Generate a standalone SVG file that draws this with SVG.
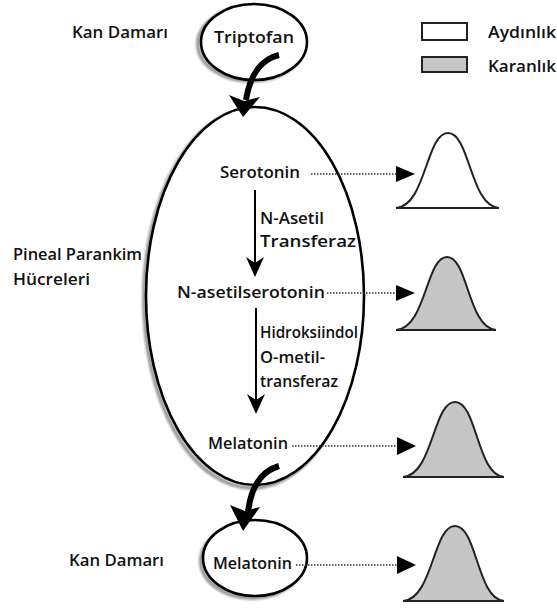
<svg xmlns="http://www.w3.org/2000/svg" width="557" height="608" viewBox="0 0 557 608">
<style>
.t{font-family:"Open Sans","DejaVu Sans",sans-serif;font-weight:600;font-size:16px;fill:#111}
.ell{fill:#fff;stroke:#000;stroke-width:2.6}
.sh{fill:none;stroke:#999;stroke-width:4}
.dot{stroke:#333;stroke-width:1.6;stroke-dasharray:1.5 1.5;fill:none}
.thick{fill:none;stroke:#000;stroke-width:6}
.thin{stroke:#000;stroke-width:2;fill:none}
.bw{fill:#fff;stroke:#222;stroke-width:2}
.bg{fill:#c6c6c6;stroke:#222;stroke-width:2}
</style>
<defs>
<filter id="blur" x="-10%" y="-10%" width="120%" height="120%"><feGaussianBlur stdDeviation="1.2"/></filter>
</defs>
<rect width="557" height="608" fill="#fff"/>

<g id="legend">
<rect x="422" y="23" width="45" height="17" fill="#fff" stroke="#222" stroke-width="2"/>
<rect x="422" y="57" width="45" height="15" fill="#c6c6c6" stroke="#222" stroke-width="2"/>
<text class="t" x="488" y="38" textLength="68" lengthAdjust="spacingAndGlyphs">Aydınlık</text>
<text class="t" x="488" y="72" textLength="68" lengthAdjust="spacingAndGlyphs">Karanlık</text>
</g>

<g id="label-kan-top"><text class="t" x="72" y="38" textLength="96" lengthAdjust="spacingAndGlyphs">Kan Damarı</text></g>
<g id="label-pineal">
<text class="t" x="13" y="260" textLength="129" lengthAdjust="spacingAndGlyphs">Pineal Parankim</text>
<text class="t" x="13" y="285" textLength="77" lengthAdjust="spacingAndGlyphs">Hücreleri</text>
</g>
<g id="label-kan-bottom"><text class="t" x="69" y="566" textLength="95" lengthAdjust="spacingAndGlyphs">Kan Damarı</text></g>

<g id="node-triptofan">
<ellipse class="sh" cx="251" cy="44" rx="53" ry="37" filter="url(#blur)"/>
<ellipse class="ell" cx="254" cy="42" rx="53" ry="38"/>
<text class="t" x="254" y="43" text-anchor="middle" textLength="80" lengthAdjust="spacingAndGlyphs">Triptofan</text>
</g>

<g id="node-pineal">
<ellipse class="sh" cx="252" cy="299" rx="108" ry="189" filter="url(#blur)"/>
<ellipse class="ell" cx="255" cy="296" rx="109" ry="189"/>
</g>

<g id="node-serotonin"><text class="t" x="220" y="178" textLength="80" lengthAdjust="spacingAndGlyphs">Serotonin</text></g>
<g id="node-nasetil"><text class="t" x="177" y="298" textLength="148" lengthAdjust="spacingAndGlyphs">N-asetilserotonin</text></g>
<g id="node-melatonin1"><text class="t" x="208" y="449" textLength="80" lengthAdjust="spacingAndGlyphs">Melatonin</text></g>

<g id="node-melatonin2">
<ellipse class="sh" cx="252" cy="561" rx="51" ry="37" filter="url(#blur)"/>
<ellipse class="ell" cx="255" cy="558" rx="52" ry="38"/>
<text class="t" x="213" y="569" textLength="79" lengthAdjust="spacingAndGlyphs">Melatonin</text>
</g>

<g id="enzyme-labels">
<text class="t" x="260" y="224" textLength="64" lengthAdjust="spacingAndGlyphs">N-Asetil</text>
<text class="t" x="260" y="247" textLength="96" lengthAdjust="spacingAndGlyphs">Transferaz</text>
<text class="t" x="260" y="338" textLength="98" lengthAdjust="spacingAndGlyphs">Hidroksiindol</text>
<text class="t" x="260" y="363" textLength="65" lengthAdjust="spacingAndGlyphs">O-metil-</text>
<text class="t" x="260" y="387" textLength="78" lengthAdjust="spacingAndGlyphs">transferaz</text>
</g>

<g id="curves">
<path class="bw" d="M396 208 C426 206 426 133 448 133 C470 133 470 206 499 208 Z"/>
<path class="bg" d="M396 330 C426 328 426 257 447 257 C468 257 468 328 496 330 Z"/>
<path class="bg" d="M403 477 C433 475 433 402 455 402 C477 402 477 475 504 477 Z"/>
<path class="bg" d="M403 601 C433 599 433 526 455 526 C477 526 477 599 504 601 Z"/>
</g>

<g id="connectors">
<path class="thick" d="M279 55 C262 59 250 74 246 100"/>
<polygon points="243,117 229,95 244,101 260,97" fill="#000"/>
<path class="thick" d="M279 466 C262 471 251 486 248 512"/>
<polygon points="243,531 230,505 245,511 260,507" fill="#000"/>

<line class="thin" x1="255" y1="190" x2="255" y2="270"/>
<polygon points="255,277 246,257 255,263 264,257" fill="#000"/>
<line class="thin" x1="256" y1="308" x2="256" y2="407"/>
<polygon points="256,414 247,394 256,400 265,394" fill="#000"/>

<line class="dot" x1="311" y1="174" x2="397" y2="174"/>
<polygon points="396,166 415,174 396,182" fill="#000"/>
<line class="dot" x1="327" y1="293" x2="397" y2="293"/>
<polygon points="396,285 415,293 396,301" fill="#000"/>
<line class="dot" x1="292" y1="446" x2="398" y2="446"/>
<polygon points="397,437 416,446 397,455" fill="#000"/>
<line class="dot" x1="296" y1="565" x2="398" y2="565"/>
<polygon points="397,556 416,565 397,574" fill="#000"/>
</g>
</svg>
